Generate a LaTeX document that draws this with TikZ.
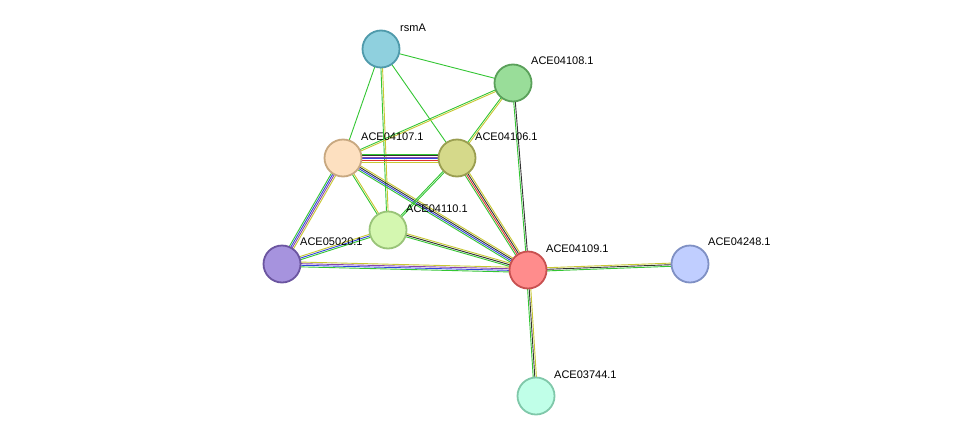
\documentclass[tikz,border=0pt]{standalone}
\usepackage{fontspec}
\setmainfont{Liberation Sans}
\usetikzlibrary{calc}
\definecolor{cg}{HTML}{33C633}
\definecolor{cy}{HTML}{C8C832}
\definecolor{ck}{HTML}{333333}
\definecolor{cb}{HTML}{3344DD}
\definecolor{cr}{HTML}{E03333}
\definecolor{cp}{HTML}{8844AA}
\definecolor{f1}{HTML}{8FD0DE}\definecolor{d1}{HTML}{4F9AAB}
\definecolor{f2}{HTML}{99DD99}\definecolor{d2}{HTML}{5AA05A}
\definecolor{f3}{HTML}{FDE0C0}\definecolor{d3}{HTML}{C8A880}
\definecolor{f4}{HTML}{D5D98A}\definecolor{d4}{HTML}{9A9E50}
\definecolor{f5}{HTML}{D4F7B0}\definecolor{d5}{HTML}{99C478}
\definecolor{f6}{HTML}{A693DE}\definecolor{d6}{HTML}{6B55A0}
\definecolor{f7}{HTML}{FF8C8C}\definecolor{d7}{HTML}{C85050}
\definecolor{f8}{HTML}{C0CEFF}\definecolor{d8}{HTML}{7F90C4}
\definecolor{f9}{HTML}{C0FFE8}\definecolor{d9}{HTML}{80C8AA}
\newcommand{\stredge}[3]{%
  \foreach \c [count=\i] in {#3} {\xdef\nn{\i}}%
  \foreach \c [count=\i] in {#3} {%
    \pgfmathsetmacro{\off}{(\i-(\nn+1)/2)*1.6}%
    \draw[\c, line width=0.9pt] ($(#1)!\off pt!90:(#2)$) -- ($(#2)!\off pt!-90:(#1)$);
  }}
\begin{document}
\begin{tikzpicture}[x=1pt,y=-1pt,
  prot/.style={circle, minimum size=37pt, inner sep=0pt, line width=1.8pt},
  lbl/.style={anchor=west, font=\fontsize{11}{12}\selectfont, inner sep=0pt}]
\useasboundingbox[fill=white] (0,0) rectangle (976,442);
\coordinate (rsmA) at (381,49);
\coordinate (p108) at (513,83);
\coordinate (p107) at (343,158);
\coordinate (p106) at (457,158);
\coordinate (p110) at (388,230);
\coordinate (p020) at (282,264);
\coordinate (p109) at (528,270);
\coordinate (p248) at (690,264);
\coordinate (p744) at (536,396);
\stredge{rsmA}{p108}{cg}
\stredge{rsmA}{p107}{cg}
\stredge{rsmA}{p106}{cg}
\stredge{rsmA}{p110}{cg,cy}
\stredge{p108}{p107}{cg,cy}
\stredge{p108}{p106}{cg,cy}
\stredge{p108}{p109}{cg,ck}
\stredge{p107}{p106}{cy,cr,cb,cp,ck,cg}
\stredge{p107}{p110}{cg,cy}
\stredge{p107}{p020}{cg,cb,cp,cy}
\stredge{p107}{p109}{cg,cb,ck,cy}
\stredge{p106}{p110}{cg,cg}
\stredge{p106}{p109}{cg,cr,ck,cy}
\stredge{p020}{p110}{cg,cb,cy}
\stredge{p020}{p109}{cg,cb,cp,cy}
\stredge{p110}{p109}{cg,ck,cy}
\stredge{p109}{p248}{cg,ck,cy}
\stredge{p109}{p744}{cg,ck,cy}
\node[prot, fill=f1, draw=d1] (nrsmA) at (rsmA) {};
\node[prot, fill=f2, draw=d2] (n108) at (p108) {};
\node[prot, fill=f3, draw=d3] (n107) at (p107) {};
\node[prot, fill=f4, draw=d4] (n106) at (p106) {};
\node[prot, fill=f5, draw=d5] (n110) at (p110) {};
\node[prot, fill=f6, draw=d6] (n020) at (p020) {};
\node[prot, fill=f7, draw=d7] (n109) at (p109) {};
\node[prot, fill=f8, draw=d8] (n248) at (p248) {};
\node[prot, fill=f9, draw=d9] (n744) at (p744) {};
\node[lbl] (l1) at (400,28) {rsmA};
\node[lbl] (l2) at (531,61) {ACE04108.1};
\node[lbl] (l3) at (361,137) {ACE04107.1};
\node[lbl] (l4) at (475,137) {ACE04106.1};
\node[lbl] (l5) at (406,209) {ACE04110.1};
\node[lbl] (l6) at (300,242) {ACE05020.1};
\node[lbl] (l7) at (546,249) {ACE04109.1};
\node[lbl] (l8) at (708,242) {ACE04248.1};
\node[lbl] (l9) at (554,375) {ACE03744.1};
\end{tikzpicture}
\end{document}
